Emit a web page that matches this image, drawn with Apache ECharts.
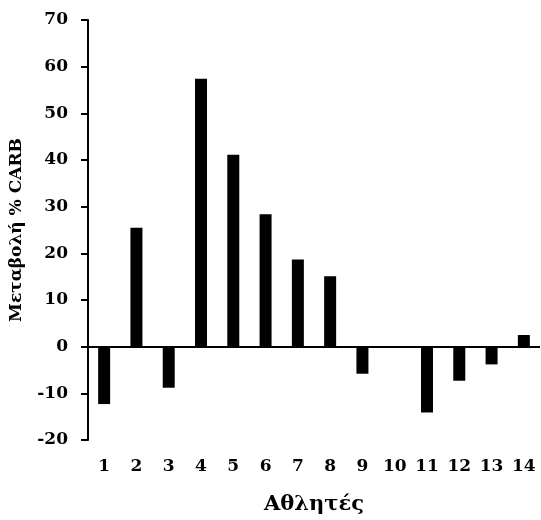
<!DOCTYPE html>
<html><head><meta charset="utf-8">
<script src="https://cdn.jsdelivr.net/npm/echarts@6/dist/echarts.min.js"></script>
<style>html,body{margin:0;padding:0;background:#fff}#c{width:541px;height:520px}</style>
</head><body><div id="c"></div>
<script>
var categories = ['1','2','3','4','5','6','7','8','9','10','11','12','13','14'];
var values = [-12.3, 25.5, -8.8, 57.4, 41.1, 28.4, 18.7, 15.1, -5.8, 0, -14.1, -7.3, -3.8, 2.5];
var yTicks = {min: -20, max: 70, interval: 10};
var xTitle = 'Αθλητές';
var yTitle = 'Μεταβολή % CARB';

var font = 'DejaVu Serif';
var chart = echarts.init(document.getElementById('c'));
chart.setOption({
  animation: false,
  grid: {left: 88, right: 1, top: 20, bottom: 80, containLabel: false, outerBoundsMode: 'none'},
  xAxis: {
    type: 'category', data: categories,
    axisLine: {show: false}, axisTick: {show: false},
    axisLabel: {color: '#000', fontFamily: font, fontWeight: 'bold', fontSize: 17, margin: 18},
    name: xTitle, nameLocation: 'middle', nameGap: 54,
    nameTextStyle: {color: '#000', fontFamily: font, fontWeight: 'bold', fontSize: 21}
  },
  yAxis: {
    type: 'value', min: yTicks.min, max: yTicks.max, interval: yTicks.interval,
    axisLine: {show: true, lineStyle: {color: '#000', width: 2}},
    axisTick: {show: true, length: 7, lineStyle: {color: '#000', width: 2}},
    splitLine: {show: false},
    axisLabel: {color: '#000', fontFamily: font, fontWeight: 'bold', fontSize: 17, margin: 20},
    name: yTitle, nameLocation: 'middle', nameGap: 63, nameRotate: 90,
    nameTextStyle: {color: '#000', fontFamily: font, fontWeight: 'bold', fontSize: 17}
  },
  series: [{
    type: 'bar', data: values, barWidth: 12,
    itemStyle: {color: '#000'},
    markLine: {
      silent: true, symbol: 'none', label: {show: false},
      lineStyle: {color: '#000', width: 2, type: 'solid'},
      data: [{yAxis: 0}]
    }
  }]
});
</script></body></html>
